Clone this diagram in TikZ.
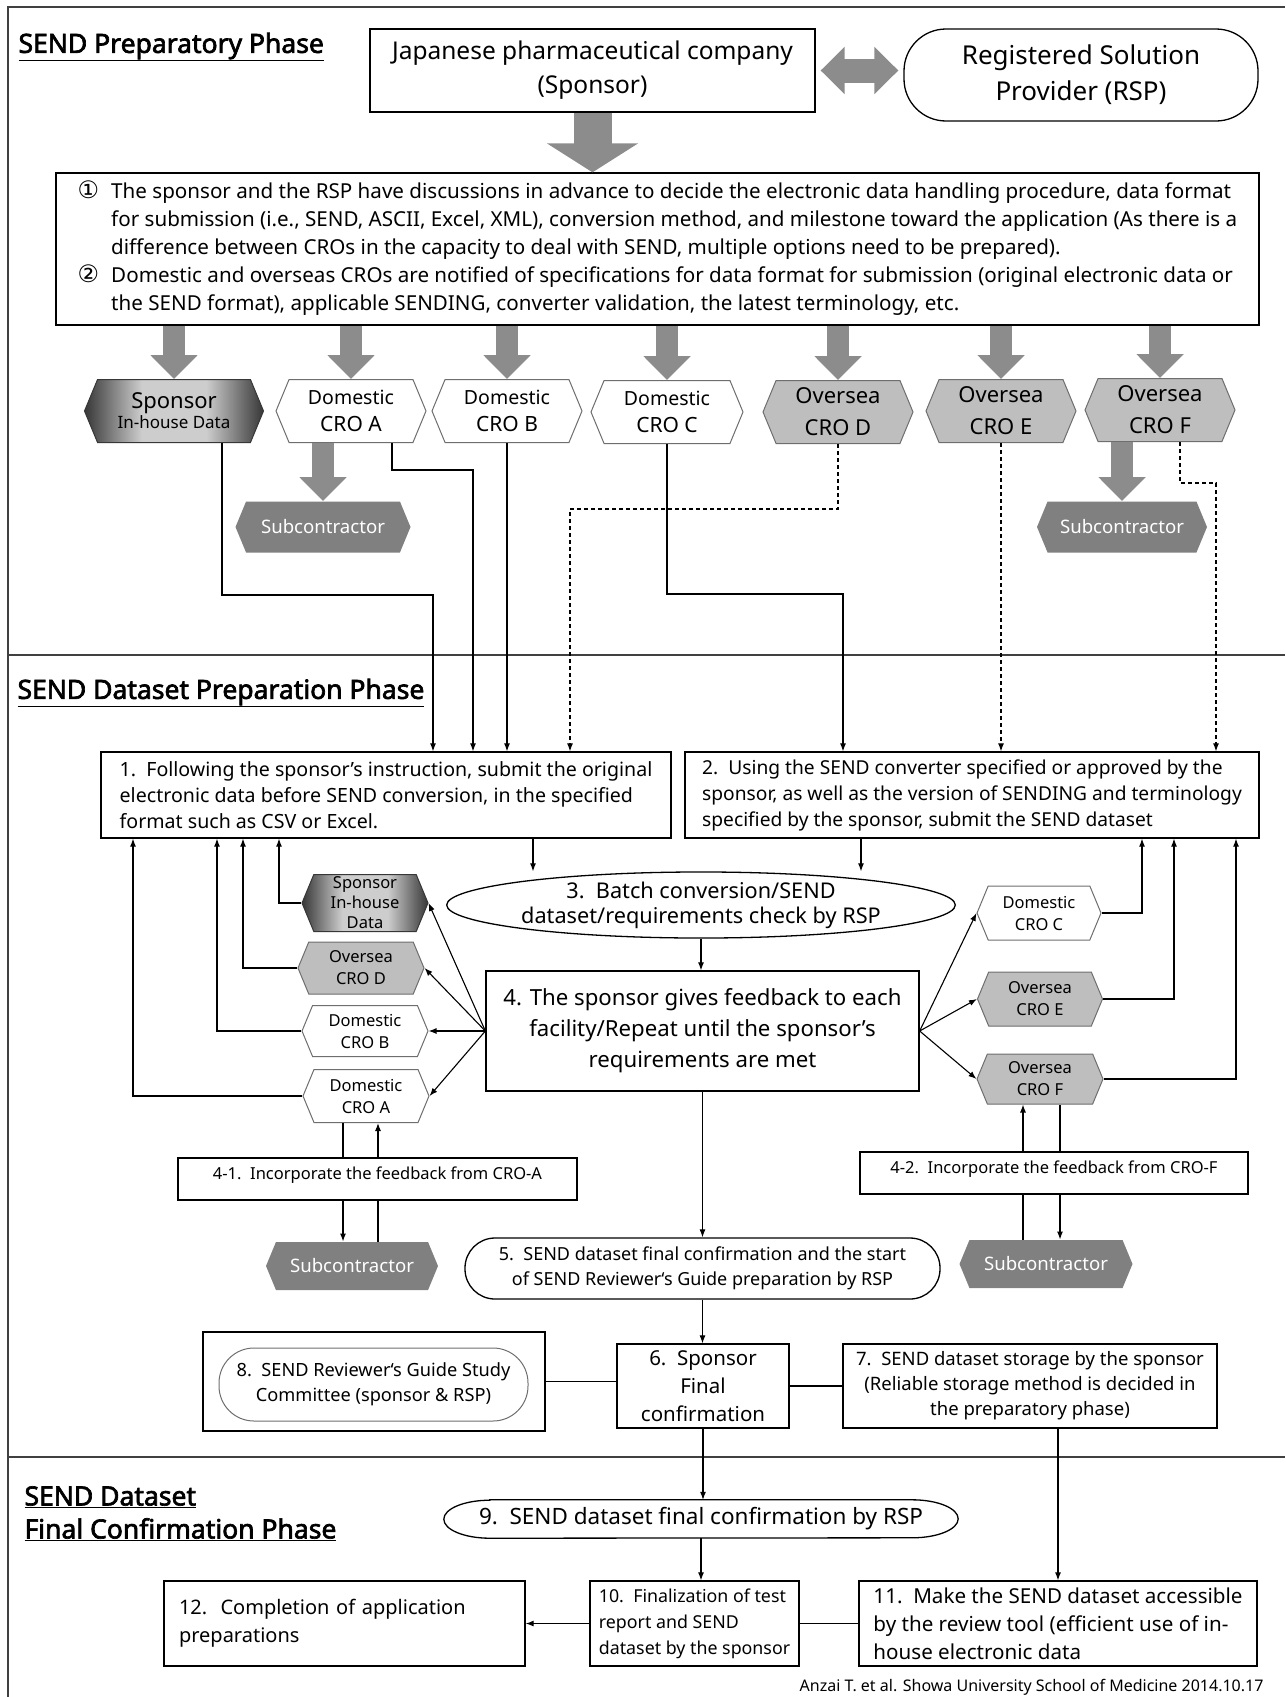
\documentclass[tikz,border=0pt]{standalone}
\usepackage{fontspec}
\setmainfont{Noto Sans}
\newfontfamily\symfont{DejaVu Sans}
\newfontfamily\phasefont{Noto Sans}[FakeBold=2.5]
\usetikzlibrary{arrows.meta,positioning,shapes.geometric,shapes.symbols}
\newcommand{\fsz}[2]{\fontsize{#1}{#2}\selectfont}
\definecolor{arrgray}{RGB}{140,140,140}
\definecolor{hexline}{RGB}{110,110,110}
\definecolor{ovfill}{RGB}{190,190,190}
\definecolor{subfill}{RGB}{128,128,128}
\definecolor{spdark}{RGB}{55,55,55}
\definecolor{splight}{RGB}{205,205,205}
\pgfdeclarehorizontalshading{spshade}{100bp}{color(0bp)=(spdark); color(25bp)=(spdark); color(41bp)=(splight); color(59bp)=(splight); color(75bp)=(spdark); color(100bp)=(spdark)}

\begin{document}
\begin{tikzpicture}[
    x=1pt, y=-1pt,
    >={Latex[length=8pt,width=6pt]},
    box/.style={draw, line width=1.3pt, align=center, inner sep=0pt},
    lbox/.style={box, align=left},
    oval/.style={draw, line width=1.3pt, ellipse, align=center, inner sep=0pt},
    pill/.style={draw, line width=1.3pt, rounded corners=#1, align=center, inner sep=0pt},
    hex/.style={signal, signal to=east and west, signal pointer angle=135, inner sep=0pt, align=center, line width=1pt},
    domhex/.style={hex, draw=hexline, fill=white},
    ovhex/.style={hex, draw=hexline, fill=ovfill},
    sphex/.style={hex, draw=spdark, shading=spshade, shading angle=0},
    subhex/.style={hex, fill=subfill, text=white},
    blockarrow/.style={draw=arrgray, line width=22pt, -{Triangle[length=24pt,width=46pt]}},
    flow/.style={->, line width=1.1pt},
    plain/.style={line width=1.1pt},
    dflow/.style={flow, dash pattern=on 4pt off 3pt},
    phase/.style={anchor=west, font=\fsz{26.5}{33}\phasefont, align=left},
    sepline/.style={line width=1.8pt, draw=black!75}
]
\useasboundingbox (0,0) rectangle (1285,1697);
% frame and phase separators
\draw[sepline] (8,1697) -- (8,7) -- (1285,7);
\draw[sepline] (8,655) -- (1285,655);
\draw[sepline] (8,1457) -- (1285,1457);

% SEND preparatory phase
\node[phase] (tprep) at (15,47) {\underline{SEND Preparatory Phase}};
\node[box, minimum width=445, minimum height=83, font=\fsz{24.5}{34}] (jpc) at (592.5,70.5) {Japanese pharmaceutical company\\(Sponsor)};
\node[pill=42, minimum width=354, minimum height=92, font=\fsz{26}{36}] (rsp) at (1081,75) {Registered Solution\\Provider (RSP)};
\draw[draw=arrgray, line width=24pt, {Triangle[length=24pt,width=46pt]}-{Triangle[length=24pt,width=46pt]}] ([xshift=5]jpc.east) -- ([xshift=-5]jpc.east -| rsp.west);

\node[box, minimum width=1203, minimum height=152, font=\fsz{20.6}{28}] (plan) at (657.5,249) {%
\begin{tabular}{@{}l@{\hspace{12pt}}l@{}}
{\symfont\fsz{24}{28}①} & The sponsor and the RSP have discussions in advance to decide the electronic data handling procedure, data format\\
 & for submission (i.e., SEND, ASCII, Excel, XML), conversion method, and milestone toward the application (As there is a\\
 & difference between CROs in the capacity to deal with SEND, multiple options need to be prepared).\\
{\symfont\fsz{24}{28}②} & Domestic and overseas CROs are notified of specifications for data format for submission (original electronic data or\\
 & the SEND format), applicable SENDING, converter validation, the latest terminology, etc.
\end{tabular}};
\draw[draw=arrgray, line width=38pt, -{Triangle[length=29pt,width=90pt]}] (jpc.south) -- (jpc.south |- plan.north);

\node[sphex, minimum width=179, minimum height=63, font=\fsz{17}{20}] (sp1) at (174,411) {{\fsz{22}{20}Sponsor}\\In-house Data};
\node[domhex, minimum width=150, minimum height=63, font=\fsz{21}{27}] (cra1) at (351,411) {{\fsz{19.5}{27}Domestic}\\CRO A};
\node[domhex, minimum width=150, minimum height=63, font=\fsz{21}{27}] (crb1) at (507,411) {{\fsz{19.5}{27}Domestic}\\CRO B};
\node[domhex, minimum width=152, minimum height=63, font=\fsz{21}{27}] (crc1) at (667,412) {{\fsz{19.5}{27}Domestic}\\CRO C};
\node[ovhex, minimum width=150, minimum height=63, font=\fsz{22}{32}] (crd1) at (838,412) {Oversea\\CRO D};
\node[ovhex, minimum width=150, minimum height=63, font=\fsz{22}{32}] (cre1) at (1001,411) {Oversea\\CRO E};
\node[ovhex, minimum width=150, minimum height=63, font=\fsz{22}{32}] (crf1) at (1160,410) {Oversea\\CRO F};
\node[subhex, minimum width=175, minimum height=51, font=\fsz{18.6}{20}] (sub1) at (323,527) {Subcontractor};
\node[subhex, minimum width=170, minimum height=51, font=\fsz{18.6}{20}] (sub2) at (1122,527) {Subcontractor};

\draw[blockarrow] (plan.south -| sp1) -- (sp1.north);
\draw[blockarrow] (plan.south -| cra1) -- (cra1.north);
\draw[blockarrow] (plan.south -| crb1) -- (crb1.north);
\draw[blockarrow] (plan.south -| crc1) -- (crc1.north);
\draw[blockarrow] (plan.south -| crd1) -- (crd1.north);
\draw[blockarrow] (plan.south -| cre1) -- (cre1.north);
\draw[blockarrow] (plan.south -| crf1) -- (crf1.north);
\draw[blockarrow] (sub1.north |- cra1.south) -- (sub1.north);
\draw[blockarrow] (sub2.north |- crf1.south) -- (sub2.north);

% SEND dataset preparation phase
\node[phase] (tdata) at (14,693) {\underline{SEND Dataset Preparation Phase}};
\node[lbox, minimum width=570, minimum height=86, font=\fsz{19.6}{26}] (step1) at (386,795) {1.~~Following the sponsor’s instruction, submit the original\\electronic data before SEND conversion, in the specified\\format such as CSV or Excel.};
\node[lbox, minimum width=574, minimum height=86, font=\fsz{19.2}{26}] (step2) at (972,795) {2.~~Using the SEND converter specified or approved by the\\sponsor, as well as the version of SENDING and terminology\\specified by the sponsor, submit the SEND dataset};

\coordinate (b1) at (433,595);
\coordinate (b2) at (473,470);
\coordinate (b3) at (570,509);
\coordinate (b4) at (843,594);
\coordinate (b5) at (1216,483);
\draw[flow] ([xshift=48]sp1.south) |- (b1) -- (b1 |- step1.north);
\draw[flow] ([xshift=41]cra1.south) |- (b2) -- (b2 |- step1.north);
\draw[flow] (crb1.south) -- (crb1.south |- step1.north);
\draw[dflow] (crd1.south) |- (b3) -- (b3 |- step1.north);
\draw[flow] (crc1.south) |- (b4) -- (b4 |- step2.north);
\draw[dflow] (cre1.south) -- (cre1.south |- step2.north);
\draw[dflow] ([xshift=20]crf1.south) |- (b5) -- (b5 |- step2.north);

\node[oval, minimum width=491, minimum height=58, font=\fsz{21.7}{25}] (batch) at (701,905) {3.~~Batch conversion/SEND\\dataset/requirements check by RSP};
\node[box, minimum width=433, minimum height=120, font=\fsz{22.2}{31}] (fb) at (702.5,1031) {4. The sponsor gives feedback to each\\facility/Repeat until the sponsor’s\\requirements are met};

\node[sphex, minimum width=126, minimum height=57, font=\fsz{16.5}{20}] (sp2) at (365,903) {Sponsor\\In-house\\Data};
\node[ovhex, minimum width=126, minimum height=52, font=\fsz{16.5}{22}] (crd2) at (361,968) {Oversea\\CRO D};
\node[domhex, minimum width=126, minimum height=51, font=\fsz{16.5}{22}] (crb2) at (365,1031) {Domestic\\CRO B};
\node[domhex, minimum width=126, minimum height=53, font=\fsz{16.5}{22}] (cra2) at (366,1096) {Domestic\\CRO A};
\node[domhex, minimum width=124, minimum height=54, font=\fsz{16.5}{22}] (crc2) at (1039,913) {Domestic\\CRO C};
\node[ovhex, minimum width=125, minimum height=54, font=\fsz{16.5}{22}] (cre2) at (1040,999) {Oversea\\CRO E};
\node[ovhex, minimum width=126, minimum height=50, font=\fsz{16.5}{22}] (crf2) at (1040,1079) {Oversea\\CRO F};

\draw[flow] ([xshift=147]step1.south) -- ([xshift=147]step1.south |- batch.north);
\draw[flow] ([xshift=-111]step2.south) -- ([xshift=-111]step2.south |- batch.north);
\draw[flow] (batch.south) -- (batch.south |- fb.north);
\draw[flow] (fb.west) -- (sp2.east);
\draw[flow] (fb.west) -- (crd2.east);
\draw[flow] (fb.west) -- (crb2.east);
\draw[flow] (fb.west) -- (cra2.east);
\draw[flow] (fb.east) -- (crc2.west);
\draw[flow] (fb.east) -- (cre2.west);
\draw[flow] (fb.east) -- (crf2.west);
\draw[flow] (sp2.west) -| ([xshift=-107]step1.south);
\draw[flow] (crd2.west) -| ([xshift=-143]step1.south);
\draw[flow] (crb2.west) -| ([xshift=-169]step1.south);
\draw[flow] (cra2.west) -| ([xshift=-253]step1.south);
\draw[flow] (crc2.east) -| ([xshift=170]step2.south);
\draw[flow] (cre2.east) -| ([xshift=202]step2.south);
\draw[flow] (crf2.east) -| ([xshift=264]step2.south);

\node[box, minimum width=399, minimum height=42, font=\fsz{16.5}{18}, text depth=12pt] (inc1) at (377.5,1179) {4-1.~~Incorporate the feedback from CRO-A};
\node[box, minimum width=388, minimum height=42, font=\fsz{16.5}{18}, text depth=12pt] (inc2) at (1054,1173) {4-2.~~Incorporate the feedback from CRO-F};
\node[subhex, minimum width=172, minimum height=48, font=\fsz{18.6}{20}] (sub3) at (352,1266) {Subcontractor};
\node[subhex, minimum width=173, minimum height=48, font=\fsz{18.6}{20}] (sub4) at (1046,1264) {Subcontractor};

\draw[plain] ([xshift=-23]cra2.south) -- ([xshift=-23]cra2.south |- inc1.north);
\draw[flow] ([xshift=-23]cra2.south |- inc1.south) -- ([xshift=-23]cra2.south |- sub3.north);
\draw[flow] ([xshift=12]cra2.south |- inc1.north) -- ([xshift=12]cra2.south);
\draw[plain] ([xshift=12]cra2.south |- sub3.north) -- ([xshift=12]cra2.south |- inc1.south);
\draw[flow] ([xshift=-17]crf2.south |- inc2.north) -- ([xshift=-17]crf2.south);
\draw[plain] ([xshift=-17]crf2.south |- sub4.north) -- ([xshift=-17]crf2.south |- inc2.south);
\draw[plain] ([xshift=20]crf2.south) -- ([xshift=20]crf2.south |- inc2.north);
\draw[flow] ([xshift=20]crf2.south |- inc2.south) -- ([xshift=20]crf2.south |- sub4.north);

\node[pill=30, minimum width=475, minimum height=61, font=\fsz{18}{25}] (conf) at (702.5,1268.5) {5.~~SEND dataset final confirmation and the start\\of SEND Reviewer‘s Guide preparation by RSP};
\node[box, minimum width=172, minimum height=84, font=\fsz{20.5}{28}] (final) at (703,1386) {6.~~Sponsor\\Final\\confirmation};
\node[box, minimum width=374, minimum height=84, font=\fsz{18.5}{25}] (store) at (1030,1386) {7.~~SEND dataset storage by the sponsor\\(Reliable storage method is decided in\\the preparatory phase)};
\node[box, minimum width=342, minimum height=99] (guide) at (374,1381.5) {};
\node[pill=35, line width=1pt, draw=hexline, minimum width=309, minimum height=73, font=\fsz{18.2}{25}] (guidein) at (373.5,1384.5) {8.~~SEND Reviewer‘s Guide Study\\Committee (sponsor \& RSP)};

\draw[flow] (fb.south) -- (fb.south |- conf.north);
\draw[flow] (conf.south) -- (conf.south |- final.north);
\draw[plain] (final.east) -- (store.west);
\draw[plain] (guide.east) -- (guide.east -| final.west);

% SEND dataset final confirmation phase
\node[phase] (tfinal) at (21,1513.5) {\underline{SEND Dataset}\\\underline{Final Confirmation Phase}};
\node[minimum width=514, minimum height=38, inner sep=0pt, font=\fsz{22.5}{24}] (rspchk) at (701,1519) {9.~~SEND dataset final confirmation by RSP};
\draw[line width=1.3pt] ([xshift=46]rspchk.north west) -- ([xshift=-46]rspchk.north east)
    arc[start angle=-90, end angle=90, x radius=46, y radius=19] -- ([xshift=46]rspchk.south west)
    arc[start angle=90, end angle=270, x radius=46, y radius=19] -- cycle;
\node[lbox, minimum width=209, minimum height=85, font=\fsz{17.8}{26}] (fin) at (694.5,1623.5) {10.~~Finalization of test\\report and SEND\\dataset by the sponsor};
\node[lbox, minimum width=398, minimum height=85, font=\fsz{20.6}{28}] (access) at (1058,1623.5) {11.~~Make the SEND dataset accessible\\by the review tool (efficient use of in-\\house electronic data};
\node[lbox, text width=331, inner xsep=15pt, minimum height=85, font=\fsz{20}{28}] (done) at (344.5,1623.5) {12.~~Completion of application\\preparations};
\node[anchor=east, font=\fsz{16}{18}] (credit) at (1267,1687) {Anzai T. et al. Showa University School of Medicine 2014.10.17};

\draw[flow] (final.south) -- (final.south |- rspchk.north);
\draw[flow] (access.north |- store.south) -- (access.north);
\draw[flow] (rspchk.south) -- (rspchk.south |- fin.north);
\draw[flow] (fin.west) -- (done.east);
\draw[plain] (access.west) -- (fin.east);
\end{tikzpicture}
\end{document}
